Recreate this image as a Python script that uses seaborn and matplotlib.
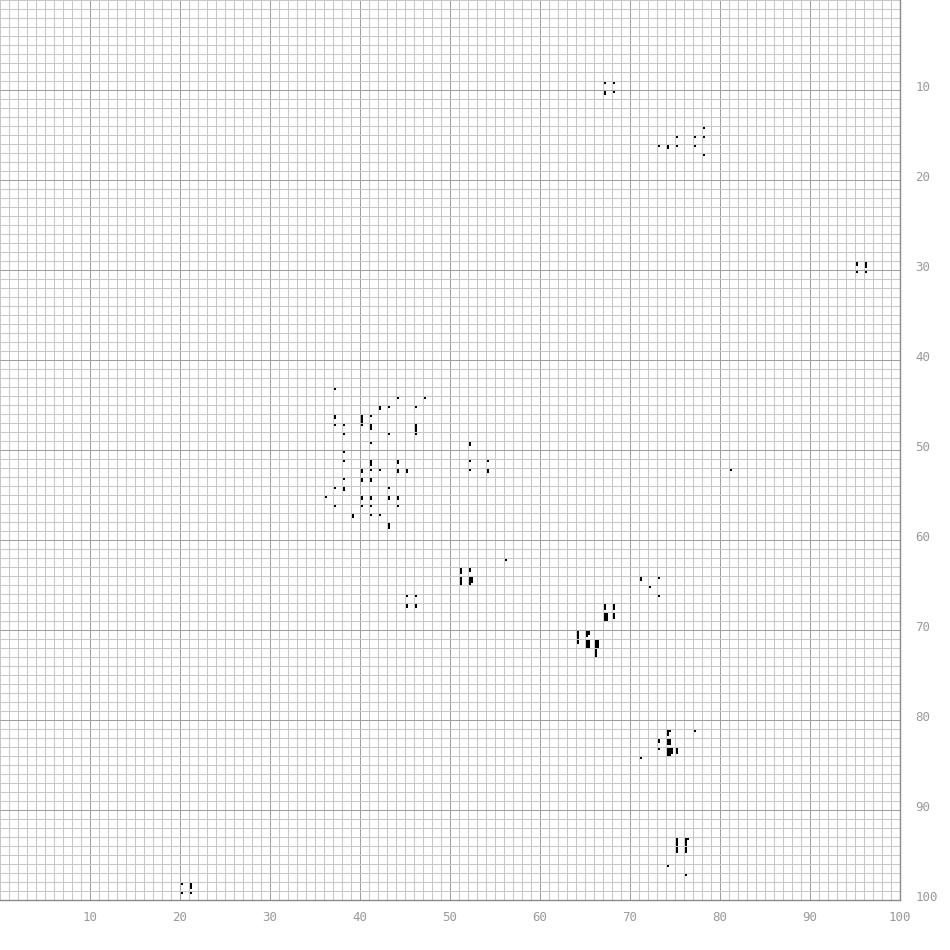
import numpy as np
import pandas as pd
import matplotlib
matplotlib.use('Agg')
import matplotlib.pyplot as plt
import matplotlib.transforms as mtransforms
import seaborn as sns

# each strip = a column of hits that starts at (strip_x, strip_y) and runs down strip_n dots
strip_x = [67.22, 68.22, 67.22, 68.22,
           78.22, 75.22, 77.22, 78.22, 73.22, 74.22, 75.22, 77.22, 78.22,
           95.22, 96.22, 95.22, 96.22,
           37.22, 44.22, 47.22, 42.22, 43.22, 46.22,
           37.22, 40.22, 41.22,
           37.22, 38.22, 40.22, 41.22, 46.22,
           38.22, 43.22, 46.22,
           41.22, 52.22, 38.22,
           38.22, 41.22, 44.22, 52.22, 54.22,
           40.22, 41.22, 42.22, 44.22, 45.22, 52.22, 54.22, 81.22,
           38.22, 40.22, 41.22,
           37.22, 38.22, 43.22,
           36.22, 40.22, 41.22, 43.22, 44.22,
           37.22, 40.22, 41.22, 44.22,
           39.22, 41.22, 42.22, 43.22,
           56.22, 51.22, 52.22,
           51.22, 52.22, 52.44, 71.22, 73.22,
           72.22, 73.22, 45.22, 46.22,
           45.22, 46.22, 67.22, 68.22,
           67.22, 67.44, 68.22,
           64.22, 65.22, 65.44,
           64.22, 65.22, 65.44, 66.22, 66.44, 66.22,
           74.22, 74.44, 77.22,
           73.22, 74.22, 74.44,
           73.22, 74.22, 74.44, 74.67, 75.22, 71.22,
           75.22, 76.22, 76.44, 75.22, 76.22,
           74.22, 76.22,
           20.22, 21.22, 20.22, 21.22]
strip_y = [9.22, 9.22, 10.22, 10.22,
           14.22, 15.22, 15.22, 15.22, 16.22, 16.22, 16.22, 16.22, 17.22,
           29.22, 29.22, 30.22, 30.22,
           43.22, 44.22, 44.22, 45.22, 45.22, 45.22,
           46.22, 46.22, 46.22,
           47.22, 47.22, 47.22, 47.22, 47.22,
           48.22, 48.22, 48.22,
           49.22, 49.22, 50.22,
           51.22, 51.22, 51.22, 51.22, 51.22,
           52.22, 52.22, 52.22, 52.22, 52.22, 52.22, 52.22, 52.22,
           53.22, 53.22, 53.22,
           54.22, 54.22, 54.22,
           55.22, 55.22, 55.22, 55.22, 55.22,
           56.22, 56.22, 56.22, 56.22,
           57.22, 57.22, 57.22, 58.22,
           62.22, 63.22, 63.22,
           64.22, 64.22, 64.22, 64.22, 64.22,
           65.22, 66.22, 66.22, 66.22,
           67.22, 67.22, 67.22, 67.22,
           68.22, 68.22, 68.22,
           70.22, 70.22, 70.22,
           71.22, 71.22, 71.22, 71.22, 71.22, 72.22,
           81.22, 81.22, 81.22,
           82.22, 82.22, 82.22,
           83.22, 83.22, 83.22, 83.22, 83.22, 84.22,
           93.22, 93.22, 93.22, 94.22, 94.22,
           96.22, 97.22,
           98.22, 98.22, 99.22, 99.22]
strip_n = [1, 1, 2, 1,
           1, 1, 1, 1, 1, 2, 1, 1, 1,
           2, 3, 1, 1,
           1, 1, 1, 2, 1, 1,
           2, 4, 1,
           1, 1, 1, 3, 4,
           1, 1, 1,
           1, 2, 1,
           1, 3, 2, 1, 1,
           2, 1, 1, 2, 2, 1, 2, 1,
           1, 2, 2,
           1, 2, 1,
           1, 2, 2, 2, 2,
           1, 1, 1, 1,
           2, 1, 1, 3,
           1, 3, 2,
           4, 4, 3, 2, 1,
           1, 1, 1, 1,
           2, 2, 3, 3,
           4, 4, 3,
           4, 3, 2,
           2, 4, 4, 4, 4, 4,
           3, 1, 1,
           2, 3, 3,
           1, 4, 4, 3, 3, 1,
           4, 4, 1, 3, 3,
           1, 1,
           1, 3, 1, 1]

x_ticks = [10, 20, 30, 40, 50, 60, 70, 80, 90, 100]
y_ticks = [10, 20, 30, 40, 50, 60, 70, 80, 90, 100]

# expand strips into single dots, one dot step down per hit
dot_step = 2 / 9
rows = []
for x0, y0, n in zip(strip_x, strip_y, strip_n):
    for k in range(n):
        rows.append((x0, y0 + k * dot_step))
dots = pd.DataFrame(rows, columns=['x', 'y'])

sns.set_style('white')
plt.rcParams['font.family'] = ['DejaVu Sans Mono', 'DejaVu Sans']

fig = plt.figure(figsize=(9.5, 9.5), dpi=100)
ax = fig.add_axes([0, 50 / 950, 900 / 950, 900 / 950])

ax.set_xlim(0, 100)
ax.set_ylim(100, 0)
ax.set_xticks(x_ticks)
ax.set_yticks(y_ticks)
ax.set_xticks(np.arange(0, 101, 1), minor=True)
ax.set_yticks(np.arange(0, 101, 1), minor=True)
ax.grid(which='minor', color='#c8c8c8', linewidth=0.75)
ax.grid(which='major', color='#a0a0a0', linewidth=0.75)
ax.set_axisbelow(True)

sns.scatterplot(data=dots, x='x', y='y', marker='s', s=2.5, color='black',
                linewidth=0, ax=ax, legend=False, antialiased=False, zorder=3)

ax.yaxis.tick_right()
ax.tick_params(which='both', length=0, labelsize=9, labelcolor='#9a9a9a')
ax.tick_params(axis='x', pad=8)
ax.tick_params(axis='y', pad=11)
# right-hand labels sit a few pixels above their grid line
lift = mtransforms.ScaledTranslation(0, 4 / 100, fig.dpi_scale_trans)
for lbl in ax.get_yticklabels():
    lbl.set_transform(lbl.get_transform() + lift)
ax.set_xlabel('')
ax.set_ylabel('')
for side in ['left', 'top']:
    ax.spines[side].set_visible(False)
for side in ['bottom', 'right']:
    ax.spines[side].set_visible(True)
    ax.spines[side].set_color('#8c8c8c')
    ax.spines[side].set_linewidth(1)

fig.savefig('out.png', dpi=100)
